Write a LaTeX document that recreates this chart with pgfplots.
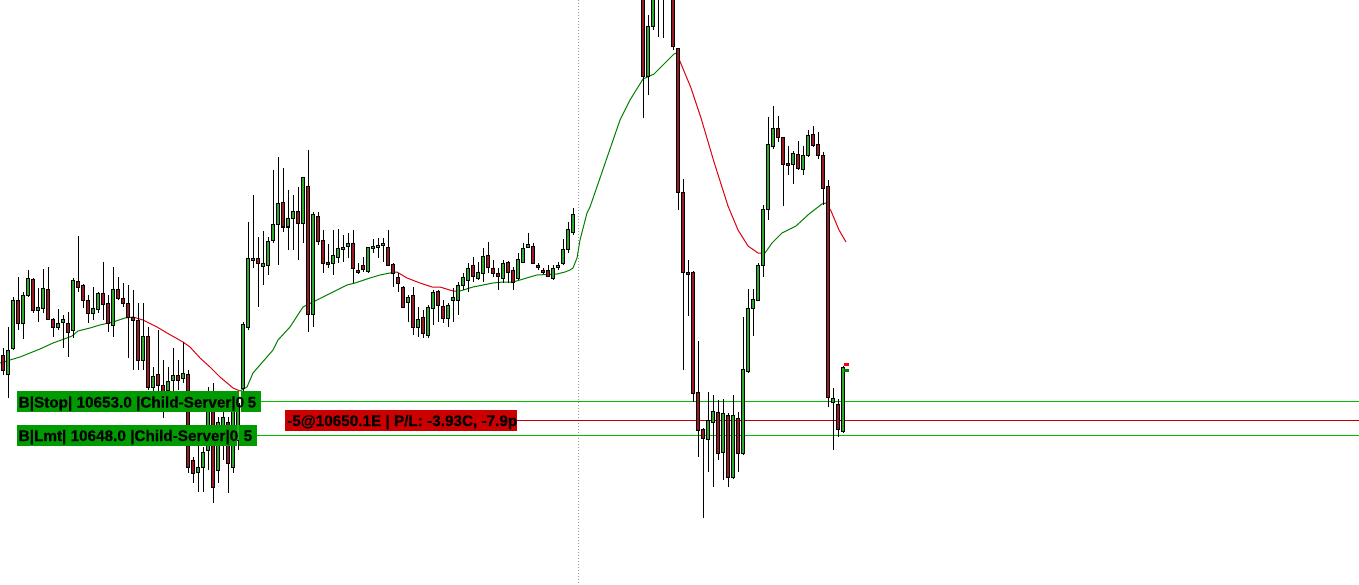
\documentclass[border=0pt]{standalone}
\usepackage{pgfplots}
\pgfplotsset{compat=1.18}
\usepackage{pgfplotstable}
\usepackage{fontspec}
\setmainfont{Liberation Sans}
\newfontfamily\lblfont{Liberation Sans}[BoldFeatures={FakeBold=0.4}]
\definecolor{cgreen}{RGB}{45,170,45}
\definecolor{cred}{RGB}{155,25,35}
\definecolor{magreen}{RGB}{0,128,0}
\definecolor{mared}{RGB}{220,0,20}
\definecolor{ordgreen}{RGB}{0,190,0}
\definecolor{ordred}{RGB}{185,0,10}
\definecolor{boxgreen}{RGB}{0,155,0}
\definecolor{boxred}{RGB}{204,0,0}
% candles: bar index i, open o, high h, low l, close c (screen units, downwards)
\pgfplotstableread{
i o h l c
0 355 348 375 370
1 374 327 398 350
2 348 297 350 300
3 300 277 330 323
4 323 292 339 295
5 295 270 297 278
6 279 278 313 310
7 310 288 322 307
8 308 269 313 288
9 289 267 320 319
10 319 318 337 327
11 327 309 330 323
12 322 315 348 319
13 323 312 357 332
14 330 278 338 280
15 281 236 292 287
16 285 284 308 300
17 300 295 323 313
18 313 287 320 308
19 309 292 313 293
20 293 262 320 304
21 303 295 332 323
22 325 267 337 289
23 289 277 300 298
24 298 283 307 303
25 303 285 358 317
26 317 290 370 320
27 320 303 370 360
28 360 303 370 336
29 336 327 390 387
30 387 367 392 376
31 374 330 393 385
32 385 360 418 397
33 390 367 400 381
34 380 348 392 375
35 375 360 390 380
36 378 342 383 373
37 374 370 473 467
38 460 457 483 473
39 472 445 492 467
40 467 447 492 452
41 450 387 470 410
42 410 383 503 487
43 470 417 483 422
44 443 403 460 417
45 422 417 493 463
46 467 402 473 410
47 440 395 450 403
48 388 322 402 324
49 327 222 330 258
50 260 195 268 258
51 258 237 307 263
52 266 231 285 263
53 265 237 275 241
54 240 170 243 225
55 225 157 265 204
56 203 168 232 227
57 227 190 250 219
58 219 195 250 212
59 212 187 260 224
60 224 177 243 178
61 187 150 332 314
62 314 212 327 215
63 217 212 245 241
64 240 230 273 263
65 262 244 268 264
66 263 230 275 255
67 257 229 263 248
68 249 235 262 247
69 246 233 258 243
70 243 230 283 268
71 270 263 274 272
72 265 257 272 269
73 271 247 273 247.5
74 248 239 253 246
75 247 238 258 245
76 245 238 262 243
77 247 230 265 265
78 264 263 287 273
79 277 273 292 283
80 287 286 308 307
81 302 295 322 297
82 295 287 335 327
83 327 307 337 319
84 317 310 338 333
85 335 305 338 307
86 308 290 325 292
87 291 290 322 305
88 306 300 323 318
89 318 303 327 305
90 300 288 322 297
91 300 282 315 285
92 285 273 290 277
93 280 263 292 268
94 265 257 282 276
95 278 262 280 272
96 273 248 282 256
97 255 242 273 267
98 268 260 277 273
99 273 268 290 276
100 278 260 283 263
101 262 261 283 272
102 270 267 290 282
103 278 253 280 259
104 262 243 263 248
105 247 233 248 244
106 246 243 263 263.5
107 265 263 270 267
108 270 268 274 272
109 270 265 277 276
110 278 265 280 268
111 267 262 270 265
112 263 239 265 249
113 249 222 253 229
114 232 208 235 215
128 -30 -40 118 77
129 77 15 95 27
130 27 -40 30 -20
131 -5 -50 37 -30
132 -30 -50 38 -5
133 -40 -60 -10 -20
134 -20 -30 50 47
135 49 48 210 193
136 193 179 370 272
137 272 260 316 274
138 272 271 402 393
139 392 341 457 430
140 429 428 518 438
141 439 392 472 420
142 422 395 487 411
143 412 400 460 453
144 452 399 480 413
145 415 413 487 477
146 477 395 479 415
147 418 412 472 453
148 453 317 455 369
149 371 289 373 308
150 308 289 336 299
151 300 263 301 265
152 265 205 277 210
153 210 117 220 145
154 147 106 149 129
155 129 116 142 138
156 138 137 206 165
157 164 146 175 166
158 165 151 184 154
159 155 141 170 169
160 170 146 175 156
161 156 130 157 136
162 135 126 147 146
163 145 132 159 156
164 156 152 205 189
165 187 180 407 397
166 402 388 450 398
167 404 399 437 429
168 431 366 433 367
}\candles
\pgfplotsset{
  candle/.style={draw=none, mark=none, forget plot,
    error bars/y dir=plus, error bars/y explicit, error bars/error mark=none},
}
\begin{document}
\begin{tikzpicture}
\begin{axis}[
  at={(0,0)}, anchor=south west,
  width=1359pt, height=585pt, scale only axis,
  xmin=0, xmax=1359, ymin=0, ymax=585, y dir=reverse,
  axis line style={draw=none}, ticks=none,
  axis background/.style={fill=white},
  clip=true,
]
% dotted vertical line
\addplot[color=gray!80, line width=1pt, dash pattern=on 1pt off 2pt] coordinates {(578.5,0) (578.5,585)};
% order lines (price levels 10653.0, 10650.1, 10648.0)
\draw[ordgreen, line width=1.2pt] (axis cs:261,401.5) -- (axis cs:1359,401.5);
\draw[ordred, line width=1.1pt] (axis cs:517,420.5) -- (axis cs:1359,420.5);
\draw[ordgreen, line width=1.2pt] (axis cs:257,435.5) -- (axis cs:1359,435.5);
% moving average
\addplot[draw=magreen, line width=1pt, line join=round] coordinates {(0,363) (20,357) (40,349) (53,343) (67,338) (72,336) (78,331) (90,328) (100,325) (113,322) (125,318) (133,317)};
\addplot[draw=mared, line width=1pt, line join=round] coordinates {(133,317) (143,320) (157,327) (167,333) (183,342) (190,347) (200,358) (210,367) (220,377) (233,388) (240,391)};
\addplot[draw=magreen, line width=1pt, line join=round] coordinates {(240,391) (247,387) (253,373) (260,365) (273,350) (278,340) (290,327) (303,307) (317,300) (333,292) (347,285) (355,283) (370,278) (380,275) (390,273) (397,272)};
\addplot[draw=mared, line width=1pt, line join=round] coordinates {(397,272) (407,278) (420,283) (432,287) (440,287) (453,291) (460,291)};
\addplot[draw=magreen, line width=1pt, line join=round] coordinates {(460,291) (473,287) (493,283) (503,282) (513,282) (520,280) (530,277) (537,275) (557,274) (565,272) (570,270) (573,268) (577,258) (580,240) (587,213) (590,207) (600,178) (610,149) (620,120) (630,100) (643,79) (654,74) (664,64) (674,54) (677,53)};
\addplot[draw=mared, line width=1pt, line join=round] coordinates {(677,53) (679,59) (691,88) (701,118) (714,162) (728,206) (738,230) (748,246) (758,253) (765,253)};
\addplot[draw=magreen, line width=1pt, line join=round] coordinates {(765,253) (772,243) (782,233) (796,226) (809,214) (822,204) (826,203)};
\addplot[draw=mared, line width=1pt, line join=round] coordinates {(826,203) (831,211) (839,230) (846,242)};
% wicks
\addplot[candle, error bars/error bar style={draw=black, line width=1pt}]
  table[x expr=3.3+5*\thisrow{i}, y=h, y error plus expr=\thisrow{l}-\thisrow{h}] {\candles};
% bodies: outline
\addplot[candle, error bars/error bar style={draw=black, line width=4pt}]
  table[x expr=3.3+5*\thisrow{i}, y expr={min(\thisrow{o},\thisrow{c})-0.5},
        y error plus expr={abs(\thisrow{o}-\thisrow{c})+1}] {\candles};
% bodies: green fill
\addplot[candle, restrict expr to domain={\thisrow{o}-\thisrow{c}}{0:10000},
  error bars/error bar style={draw=cgreen, line width=2pt}]
  table[x expr=3.3+5*\thisrow{i}, y expr={min(\thisrow{o},\thisrow{c})+0.5},
        y error plus expr={abs(\thisrow{o}-\thisrow{c})-1}] {\candles};
% bodies: red fill
\addplot[candle, restrict expr to domain={\thisrow{c}-\thisrow{o}}{0:10000},
  error bars/error bar style={draw=cred, line width=2pt}]
  table[x expr=3.3+5*\thisrow{i}, y expr={min(\thisrow{o},\thisrow{c})+0.5},
        y error plus expr={abs(\thisrow{o}-\thisrow{c})-1}] {\candles};
% last price flags
\addplot[draw=red, line width=3pt] coordinates {(843.5,364) (848.5,364)};
\addplot[draw=magreen, line width=3pt] coordinates {(844,370.3) (848.5,370.3)};
% order labels
\fill[boxgreen] (axis cs:17,391) rectangle (axis cs:239,412);
\fill[boxgreen] (axis cs:241,391) rectangle (axis cs:261,412);
\fill[boxgreen] (axis cs:17,425) rectangle (axis cs:236.5,446);
\fill[boxgreen] (axis cs:238.5,425) rectangle (axis cs:257,446);
\fill[boxred] (axis cs:285,410) rectangle (axis cs:517,430.5);
\tikzset{lbl/.style={anchor=base west, inner sep=0pt, font=\lblfont\fontsize{15.3}{18}\selectfont\bfseries}}
\node[lbl] at (axis cs:18.5,407.5) {B|Stop| 10653.0 |Child-Server|0};
\node[lbl] at (axis cs:247.5,407.5) {5};
\node[lbl] at (axis cs:18.5,441) {B|Lmt| 10648.0 |Child-Server|0};
\node[lbl] at (axis cs:243.5,441) {5};
\node[lbl] at (axis cs:287,426) {-5@10650.1E | P/L: -3.93C, -7.9p};
\end{axis}
\pgfresetboundingbox
\useasboundingbox (0,0) rectangle (1359pt,585pt);
\end{tikzpicture}
\end{document}
